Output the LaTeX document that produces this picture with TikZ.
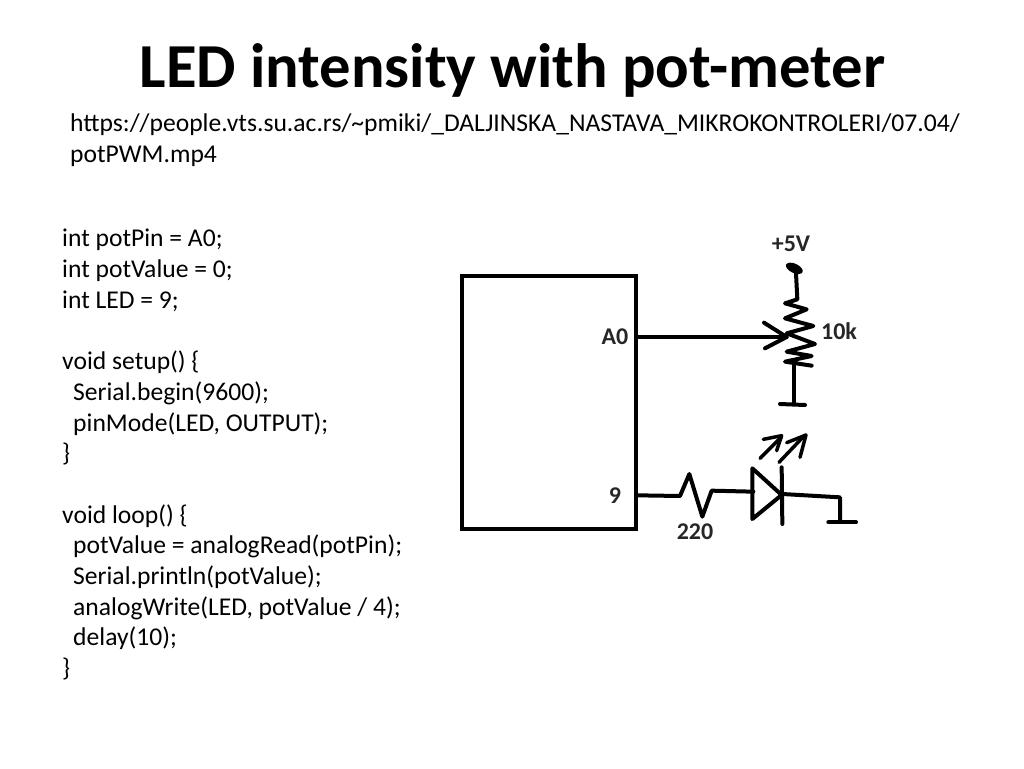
\documentclass[tikz,border=0pt]{standalone}
\usepackage{fontspec}
\setmainfont{Carlito}
\tikzset{
  wire/.style={line width=4pt,line cap=round,line join=round,black},
  thinwire/.style={line width=3.5pt,line cap=round,line join=round,black},
  lbl/.style={font=\fontsize{24}{26}\selectfont\bfseries,inner sep=0pt,text=black!85},
}
\begin{document}
\begin{tikzpicture}[x=1pt,y=-1pt]
\useasboundingbox (0,0) rectangle (1024,768);
\node[inner sep=0pt,font=\fontsize{62.6}{68}\selectfont\bfseries] (title) at (512.5,70.5) {LED intensity with pot-meter};
\node[inner sep=0pt,anchor=base west,align=left,font=\fontsize{25.6}{30.7}\selectfont] (url) at (70,162)
  {https://people.vts.su.ac.rs/\textasciitilde pmiki/\_DALJINSKA\_NASTAVA\_MIKROKONTROLERI/07.04/\\potPWM.mp4};
\node[inner sep=0pt,anchor=north west,align=left,font=\fontsize{25.6}{30.7}\selectfont] (code) at (62,229) {%
int potPin = A0;\\
int potValue = 0;\\
int LED = 9;\\[30.7pt]
void setup() \{\\
\hspace*{11pt}Serial.begin(9600);\\
\hspace*{11pt}pinMode(LED, OUTPUT);\\
\}\\[30.7pt]
void loop() \{\\
\hspace*{11pt}potValue = analogRead(potPin);\\
\hspace*{11pt}Serial.println(potValue);\\
\hspace*{11pt}analogWrite(LED, potValue / 4);\\
\hspace*{11pt}delay(10);\\
\}};
% microcontroller box
\node[draw,line width=3.6pt,outer sep=0pt,minimum width=174pt,minimum height=253pt,inner sep=0pt] (mcu) at (549,402.5) {};
\node[lbl] (a0) at (615,337) {A0};
\node[lbl] (nine) at (615,496) {9};
\node[lbl] (five) at (791,244) {+5V};
\node[lbl] (tenk) at (839,331) {10k};
\node[lbl] (r220) at (695,532) {220};
% potentiometer, in zoomed coordinates
\begin{scope}[shift={(590,220)},scale=1/3]
  \coordinate (wiper) at (590,351);
  \coordinate (pinA) at (145,351);
  \draw[wire] (pinA) -- (wiper);
  \draw[wire] (522,308) -- (wiper) -- (525,385);
  \fill[rotate around={-25:(613,145)}] (613,145) ellipse (27 and 14);
  \draw[wire] (618,160) -- (622,238) -- (585,250) -- (650,268) -- (585,295) -- (670,318) -- (590,340) -- (675,372) -- (590,395) -- (665,408) -- (585,425) -- (665,437);
  \draw[wire] (612,437) -- (612,552);
  \draw[wire] (570,552) -- (645,555);
\end{scope}
% LED branch, in zoomed coordinates
\begin{scope}[shift={(590,420)},scale=1/3]
  \coordinate (pinNine) at (145,226);
  \draw[wire] (pinNine) -- (270,228) -- (298,162) -- (337,290) -- (365,212) -- (490,215);
  \draw[wire] (487,145) -- (575,225) -- (487,297) -- cycle;
  \draw[wire] (575,142) -- (577,312);
  \draw[wire] (577,222) -- (750,232) -- (750,305);
  \draw[wire] (715,307) -- (798,307);
  \draw[thinwire] (510,115) -- (575,50);
  \draw[thinwire] (520,58) -- (575,47) -- (560,92);
  \draw[thinwire] (567,127) -- (645,45);
  \draw[thinwire] (590,68) -- (648,45) -- (630,112);
\end{scope}
\end{tikzpicture}
\end{document}
